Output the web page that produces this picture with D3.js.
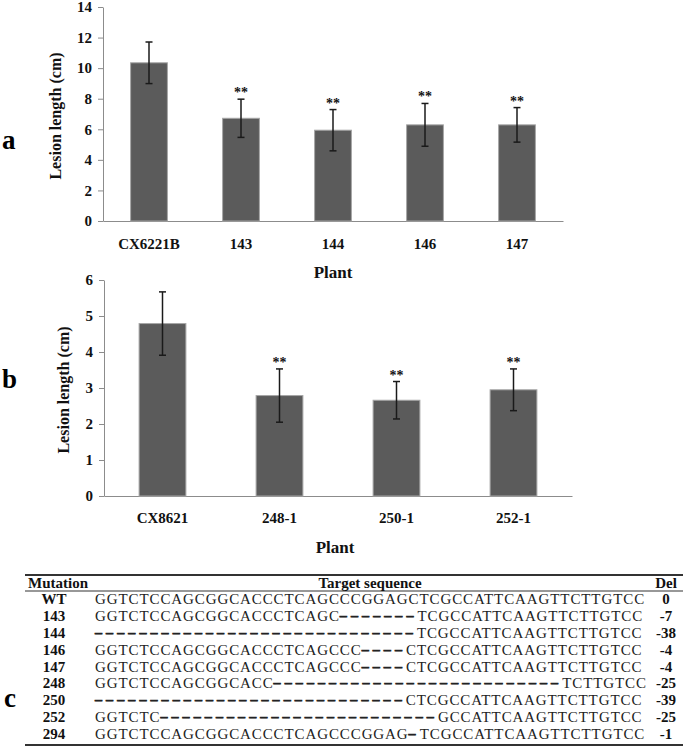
<!DOCTYPE html>
<html>
<head>
<meta charset="utf-8">
<script src="https://cdn.jsdelivr.net/npm/d3@7"></script>
<style>
  body { margin: 0; background: #fff; }
  svg text { font-family: "Liberation Serif", "Times New Roman", serif; }
  .axis path, .axis line { stroke: #8c8c8c; }
  .axis text { font-size: 15px; font-weight: bold; fill: #111; }
  .bar { fill: #5b5b5b; stroke: #a6a6a6; stroke-width: 1; }
  .err { stroke: #1a1a1a; stroke-width: 1.5; }
  .title { font-size: 16px; font-weight: bold; fill: #111; }
  .panel { font-size: 27px; font-weight: bold; fill: #000; }
  .star { font-size: 14px; font-weight: bold; fill: #111; }
  .tbl { font-size: 15px; font-weight: bold; fill: #111; }
  .seq { font-size: 15px; fill: #222; letter-spacing: 0.9px; }
  .gap { font-size: 14px; font-weight: bold; letter-spacing: 4.1px; stroke: #222; stroke-width: 0.7px; baseline-shift: 1.5px; }
</style>
</head>
<body>
<script>
// panel a
let plantsA = ["CX6221B", "143", "144", "146", "147"];
let meansA = [10.35, 6.72, 5.94, 6.29, 6.29];
let sdA = [1.36, 1.25, 1.35, 1.40, 1.13];
let sigA = ["", "**", "**", "**", "**"];
let ticksA = [0, 2, 4, 6, 8, 10, 12, 14];

// panel b
let plantsB = ["CX8621", "248-1", "250-1", "252-1"];
let meansB = [4.79, 2.79, 2.66, 2.95];
let sdB = [0.88, 0.74, 0.52, 0.58];
let sigB = ["", "**", "**", "**"];
let ticksB = [0, 1, 2, 3, 4, 5, 6];

// panel c
let mutationIds = ["WT", "143", "144", "146", "147", "248", "250", "252", "294"];
let sequences = [
  "GGTCTCCAGCGGCACCCTCAGCCCGGAGCTCGCCATTCAAGTTCTTGTCC",
  "GGTCTCCAGCGGCACCCTCAGC-------TCGCCATTCAAGTTCTTGTCC",
  "-----------------------------TCGCCATTCAAGTTCTTGTCC",
  "GGTCTCCAGCGGCACCCTCAGCCC----CTCGCCATTCAAGTTCTTGTCC",
  "GGTCTCCAGCGGCACCCTCAGCCC----CTCGCCATTCAAGTTCTTGTCC",
  "GGTCTCCAGCGGCACC--------------------------TCTTGTCC",
  "----------------------------CTCGCCATTCAAGTTCTTGTCC",
  "GGTCTC-------------------------GCCATTCAAGTTCTTGTCC",
  "GGTCTCCAGCGGCACCCTCAGCCCGGAG-TCGCCATTCAAGTTCTTGTCC"
];
let deletions = ["0", "-7", "-38", "-4", "-4", "-25", "-39", "-25", "-1"];

const W = 685, H = 747;
const svg = d3.select("body").append("svg")
  .attr("width", W)
  .attr("height", H);

function barChart(cfg) {
  const x = d3.scaleBand()
    .domain(cfg.plants)
    .range([cfg.left, cfg.right])
    .paddingInner(0.6)
    .paddingOuter(0.3);

  const y = d3.scaleLinear()
    .domain([0, d3.max(cfg.ticks)])
    .range([cfg.bottom, cfg.top]);

  const g = svg.append("g");

  g.append("g")
    .attr("class", "axis")
    .attr("transform", "translate(" + cfg.left + ",0)")
    .call(d3.axisLeft(y).tickValues(cfg.ticks).tickFormat(d3.format("d"))
      .tickSize(5).tickSizeOuter(0).tickPadding(6))
    .attr("font-family", null);

  g.append("g")
    .attr("class", "axis")
    .attr("transform", "translate(0," + cfg.bottom + ")")
    .call(d3.axisBottom(x).tickSize(0).tickSizeOuter(0).tickPadding(cfg.xPad))
    .attr("font-family", null);

  const data = cfg.plants.map((p, i) => ({ p: p, m: cfg.means[i], sd: cfg.sd[i], s: cfg.sig[i] }));

  g.selectAll(".bar")
    .data(data)
    .enter().append("rect")
    .attr("class", "bar")
    .attr("x", d => x(d.p))
    .attr("width", x.bandwidth())
    .attr("y", d => y(d.m))
    .attr("height", d => y(0) - y(d.m));

  const cap = 3.5;
  const eb = g.selectAll(".eb")
    .data(data)
    .enter().append("g")
    .attr("transform", d => "translate(" + (x(d.p) + x.bandwidth() / 2) + ",0)");
  eb.append("line").attr("class", "err")
    .attr("y1", d => y(d.m + d.sd)).attr("y2", d => y(d.m - d.sd));
  eb.append("line").attr("class", "err")
    .attr("x1", -cap).attr("x2", cap)
    .attr("y1", d => y(d.m + d.sd)).attr("y2", d => y(d.m + d.sd));
  eb.append("line").attr("class", "err")
    .attr("x1", -cap).attr("x2", cap)
    .attr("y1", d => y(d.m - d.sd)).attr("y2", d => y(d.m - d.sd));
  eb.append("text").attr("class", "star")
    .attr("text-anchor", "middle")
    .attr("y", d => y(d.m + d.sd) - 2)
    .text(d => d.s);

  g.append("text").attr("class", "title")
    .attr("transform", "translate(" + cfg.yTitleX + "," + cfg.yTitleY + ") rotate(-90)")
    .attr("text-anchor", "middle")
    .text("Lesion length (cm)");

  g.append("text").attr("class", "title")
    .attr("x", cfg.plantX).attr("y", cfg.plantY)
    .attr("text-anchor", "middle")
    .style("font-size", "17px")
    .text("Plant");

  g.append("text").attr("class", "panel")
    .attr("x", 2).attr("y", cfg.panelY)
    .text(cfg.panel);
}

barChart({
  plants: plantsA, means: meansA, sd: sdA, sig: sigA, ticks: ticksA,
  left: 103, right: 563, top: 7, bottom: 221, xPad: 17,
  yTitleX: 60.5, yTitleY: 116, plantX: 333, plantY: 278,
  panel: "a", panelY: 149
});

barChart({
  plants: plantsB, means: meansB, sd: sdB, sig: sigB, ticks: ticksB,
  left: 104, right: 572, top: 280, bottom: 496, xPad: 16,
  yTitleX: 68.5, yTitleY: 390, plantX: 335, plantY: 553,
  panel: "b", panelY: 388
});

// table c
const tbl = svg.append("g");
const tLeft = 25, tRight = 683;
const rowY = d3.scalePoint()
  .domain(mutationIds)
  .range([604, 739]);

tbl.append("line").attr("x1", tLeft).attr("x2", tRight).attr("y1", 575).attr("y2", 575)
  .attr("stroke", "#333").attr("stroke-width", 2);
tbl.append("line").attr("x1", tLeft).attr("x2", tRight).attr("y1", 591).attr("y2", 591)
  .attr("stroke", "#333").attr("stroke-width", 1.2);
tbl.append("line").attr("x1", tLeft).attr("x2", tRight).attr("y1", 745).attr("y2", 745)
  .attr("stroke", "#333").attr("stroke-width", 2);

tbl.append("text").attr("class", "tbl").attr("x", 28).attr("y", 588).text("Mutation");
tbl.append("text").attr("class", "tbl").attr("x", 370).attr("y", 588)
  .attr("text-anchor", "middle").text("Target sequence");
tbl.append("text").attr("class", "tbl").attr("x", 666).attr("y", 588)
  .attr("text-anchor", "middle").text("Del");

const rows = tbl.selectAll(".row")
  .data(mutationIds.map((id, i) => ({ id: id, seq: sequences[i], del: deletions[i] })))
  .enter().append("g")
  .attr("transform", d => "translate(0," + rowY(d.id) + ")");

rows.append("text").attr("class", "tbl")
  .attr("x", 54).attr("text-anchor", "middle")
  .text(d => d.id);

rows.append("text").attr("class", "tbl")
  .attr("x", 666).attr("text-anchor", "middle")
  .text(d => d.del);

const seqText = rows.append("text").attr("class", "seq").attr("x", 95);
seqText.each(function (d) {
  const t = d3.select(this);
  d.seq.match(/-+|[^-]+/g).forEach(run => {
    if (run[0] === "-") {
      t.append("tspan").attr("class", "gap").text("\u2013".repeat(run.length));
    } else {
      t.append("tspan").text(run);
    }
  });
});

svg.append("text").attr("class", "panel")
  .attr("x", 4).attr("y", 707)
  .text("c");
</script>
</body>
</html>
